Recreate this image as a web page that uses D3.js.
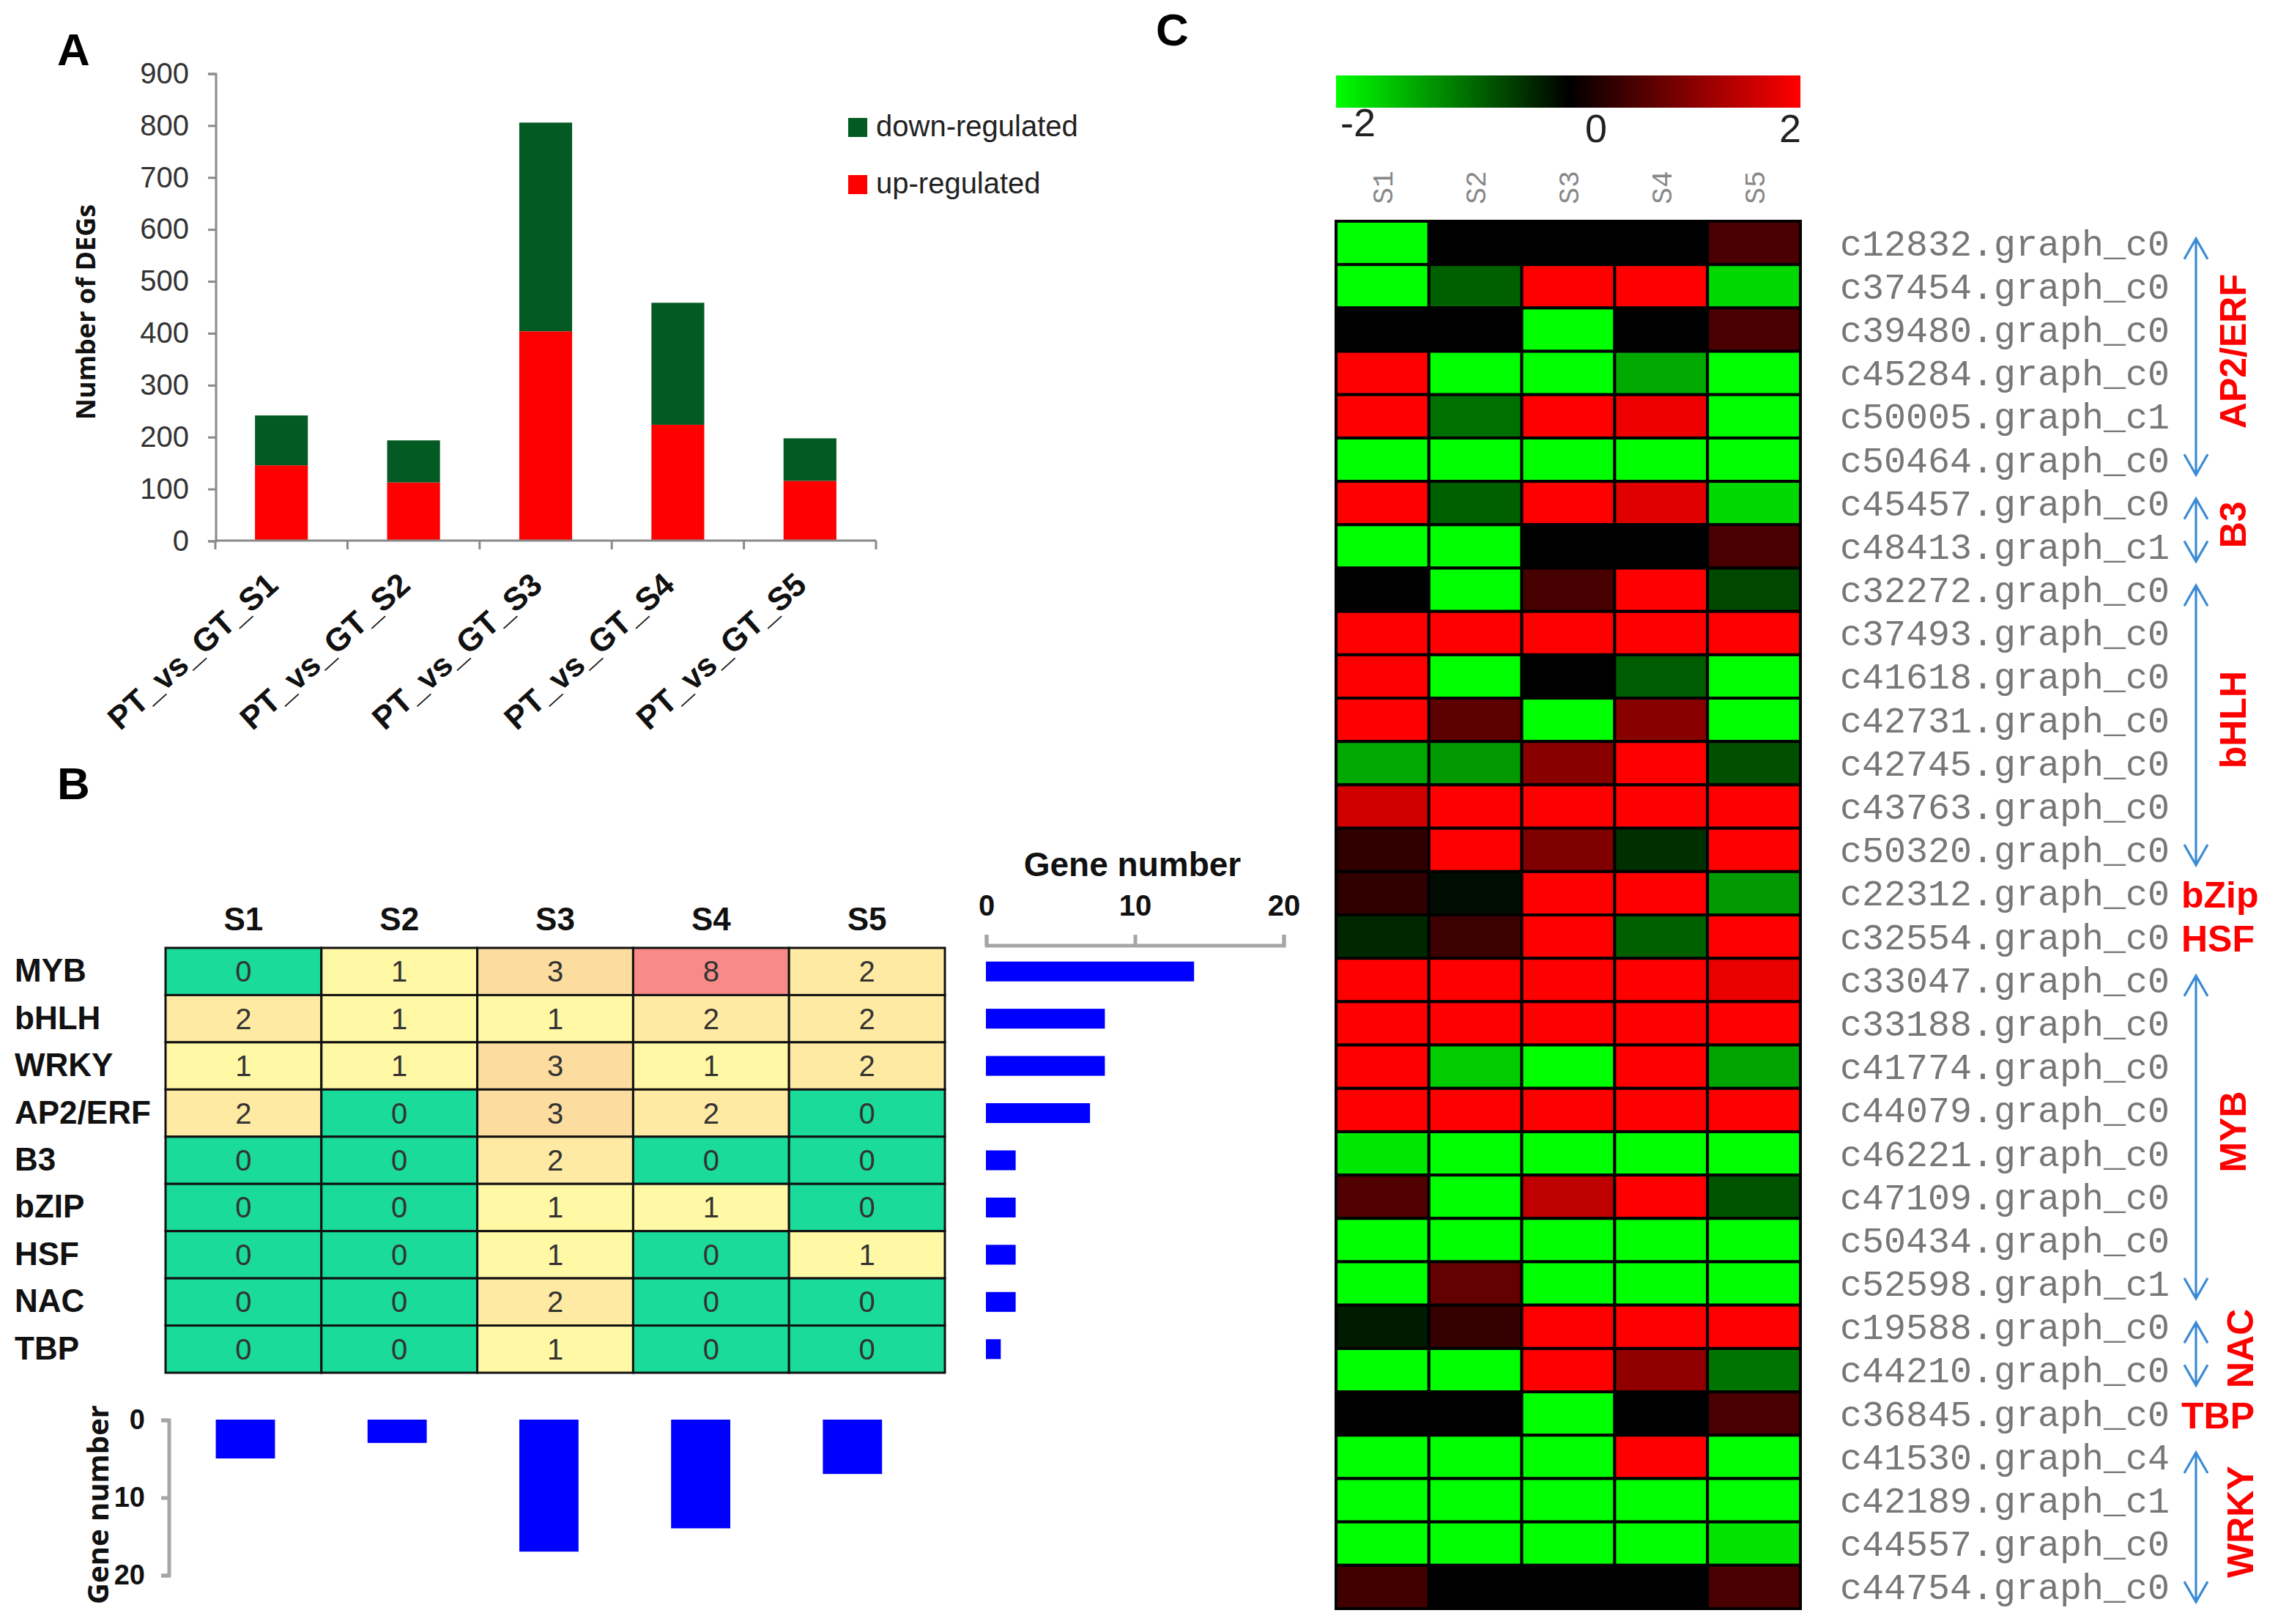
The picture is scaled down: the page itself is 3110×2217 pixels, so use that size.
<!DOCTYPE html>
<html>
<head>
<meta charset="utf-8">
<script src="https://cdn.jsdelivr.net/npm/d3@7"></script>
<style>
  body { margin: 0; background: #fff; }
  svg { display: block; }
</style>
</head>
<body>
<div id="figure"></div>
<script>
// ---- panel A data
const comparisons = ['PT_vs_GT_S1', 'PT_vs_GT_S2', 'PT_vs_GT_S3', 'PT_vs_GT_S4', 'PT_vs_GT_S5']
const upRegulated = [145, 112, 403, 223, 115]
const downRegulated = [96, 81, 402, 235, 82]

// ---- panel B data
const stages = ['S1', 'S2', 'S3', 'S4', 'S5']
const families = ['MYB', 'bHLH', 'WRKY', 'AP2/ERF', 'B3', 'bZIP', 'HSF', 'NAC', 'TBP']
const familyCounts = [
  [0, 1, 3, 8, 2],
  [2, 1, 1, 2, 2],
  [1, 1, 3, 1, 2],
  [2, 0, 3, 2, 0],
  [0, 0, 2, 0, 0],
  [0, 0, 1, 1, 0],
  [0, 0, 1, 0, 1],
  [0, 0, 2, 0, 0],
  [0, 0, 1, 0, 0]
]
const familyTotals = [14, 8, 8, 7, 2, 2, 2, 2, 1]
const stageTotals = [5, 3, 17, 14, 7]

// ---- panel C data
const genes = [
  'c12832.graph_c0', 'c37454.graph_c0', 'c39480.graph_c0', 'c45284.graph_c0',
  'c50005.graph_c1', 'c50464.graph_c0', 'c45457.graph_c0', 'c48413.graph_c1',
  'c32272.graph_c0', 'c37493.graph_c0', 'c41618.graph_c0', 'c42731.graph_c0',
  'c42745.graph_c0', 'c43763.graph_c0', 'c50320.graph_c0', 'c22312.graph_c0',
  'c32554.graph_c0', 'c33047.graph_c0', 'c33188.graph_c0', 'c41774.graph_c0',
  'c44079.graph_c0', 'c46221.graph_c0', 'c47109.graph_c0', 'c50434.graph_c0',
  'c52598.graph_c1', 'c19588.graph_c0', 'c44210.graph_c0', 'c36845.graph_c0',
  'c41530.graph_c4', 'c42189.graph_c1', 'c44557.graph_c0', 'c44754.graph_c0'
]
const expression = [
  [-2, 0, 0, 0, 0.58],
  [-2, -0.75, 2, 2, -1.7],
  [0, 0, -2, 0, 0.58],
  [2, -2, -2, -1.32, -2],
  [2, -0.88, 2, 1.87, -2],
  [-2, -2, -2, -2, -2],
  [2, -0.75, 2, 1.76, -1.7],
  [-2, -2, 0, 0, 0.58],
  [0, -2, 0.56, 2, -0.56],
  [2, 2, 2, 2, 2],
  [2, -2, 0, -0.72, -2],
  [2, 0.72, -2, 1.07, -2],
  [-1.32, -1.2, 1.07, 2, -0.63],
  [1.63, 2, 2, 2, 2],
  [0.38, 2, 1.0, -0.38, 2],
  [0.38, -0.1, 2, 2, -1.2],
  [-0.31, 0.47, 2, -0.75, 2],
  [2, 2, 2, 2, 1.84],
  [2, 2, 2, 2, 2],
  [2, -1.6, -2, 2, -1.29],
  [2, 2, 2, 2, 2],
  [-1.82, -2, -2, -2, -2],
  [0.63, -2, 1.5, 2, -0.66],
  [-2, -2, -2, -2, -2],
  [-2, 0.78, -2, -2, -2],
  [-0.22, 0.41, 2, 2, 2],
  [-2, -2, 2, 1.13, -0.91],
  [0, 0, -2, 0, 0.58],
  [-2, -2, -2, 2, -2],
  [-2, -2, -2, -2, -2],
  [-2, -2, -2, -2, -1.79],
  [0.5, 0, 0, 0, 0.58]
]
const geneGroups = [
  { name: 'AP2/ERF', first: 0, last: 5, arrow: true },
  { name: 'B3', first: 6, last: 7, arrow: true },
  { name: 'bHLH', first: 8, last: 14, arrow: true },
  { name: 'bZip', first: 15, last: 15, arrow: false },
  { name: 'HSF', first: 16, last: 16, arrow: false },
  { name: 'MYB', first: 17, last: 24, arrow: true },
  { name: 'NAC', first: 25, last: 26, arrow: true },
  { name: 'TBP', first: 27, last: 27, arrow: false },
  { name: 'WRKY', first: 28, last: 31, arrow: true }
]
const colorbarTicks = [-2, 0, 2]

const narrow = "'Liberation Sans Narrow', 'Arial Narrow', sans-serif"
const sans = "'Liberation Sans', Arial, sans-serif"
const wide = "'Open Sans', 'DejaVu Sans', sans-serif"
const mono = "'Liberation Mono', 'Courier New', monospace"

const svg = d3
  .select('#figure')
  .append('svg')
  .attr('width', 3110)
  .attr('height', 2217)
  .attr('viewBox', '0 0 1555 1108.5')

svg.append('rect').attr('width', 1555).attr('height', 1108.5).attr('fill', '#fff')

// panel letters
const letters = [['A', 39, 44.5], ['B', 39, 545.5], ['C', 789, 31]]
svg
  .selectAll('.panel-letter')
  .data(letters)
  .enter()
  .append('text')
  .attr('class', 'panel-letter')
  .attr('x', d => d[1])
  .attr('y', d => d[2])
  .text(d => d[0])
  .attr('font-family', sans)
  .attr('font-weight', 700)
  .attr('font-size', 31)

// =============== Panel A ===============
const panelA = svg.append('g')

const xA = d3
  .scaleBand()
  .domain(comparisons)
  .range([147, 598])
  .paddingInner(0.6)
  .paddingOuter(0.3)

const yA = d3
  .scaleLinear()
  .domain([0, 900])
  .range([369, 50])

const degRows = comparisons.map((c, i) => ({ name: c, up: upRegulated[i], down: downRegulated[i] }))
const degSeries = d3.stack().keys(['up', 'down'])(degRows)
const degColors = { up: '#ff0000', down: '#035a22' }

panelA
  .selectAll('.layer')
  .data(degSeries)
  .enter()
  .append('g')
  .attr('class', 'layer')
  .attr('fill', d => degColors[d.key])
  .selectAll('rect')
  .data(d => d)
  .enter()
  .append('rect')
  .attr('x', d => xA(d.data.name))
  .attr('y', d => yA(d[1]))
  .attr('width', xA.bandwidth())
  .attr('height', d => yA(d[0]) - yA(d[1]))

const yAxisA = panelA
  .append('g')
  .attr('transform', 'translate(147,0)')
  .call(d3.axisLeft(yA).ticks(9).tickSize(5).tickPadding(13))
yAxisA.select('.domain').attr('stroke', '#8a8a8a').attr('stroke-width', 1.5)
yAxisA.selectAll('.tick line').attr('stroke', '#8a8a8a').attr('stroke-width', 1.5)
yAxisA
  .selectAll('.tick text')
  .attr('font-family', narrow)
  .attr('font-size', 20)
  .attr('fill', '#333')

// x axis with ticks between categories
panelA
  .append('line')
  .attr('x1', xA.range()[0])
  .attr('x2', xA.range()[1])
  .attr('y1', yA(0))
  .attr('y2', yA(0))
  .attr('stroke', '#8a8a8a')
  .attr('stroke-width', 1.5)

const gapA = (xA.step() - xA.bandwidth()) / 2
const boundaries = comparisons.map(c => xA(c) - gapA).concat([xA.range()[1]])
panelA
  .selectAll('.x-tick')
  .data(boundaries)
  .enter()
  .append('line')
  .attr('x1', d => d)
  .attr('x2', d => d)
  .attr('y1', yA(0))
  .attr('y2', yA(0) + 6)
  .attr('stroke', '#8a8a8a')
  .attr('stroke-width', 1.5)

panelA
  .selectAll('.x-label')
  .data(comparisons)
  .enter()
  .append('text')
  .attr('class', 'x-label')
  .attr('transform', d => 'translate(' + (xA(d) + xA.bandwidth() / 2 - 1) + ',401) rotate(-42)')
  .attr('text-anchor', 'end')
  .text(d => d)
  .attr('font-family', sans)
  .attr('font-weight', 700)
  .attr('font-size', 22)
  .attr('fill', '#111')

panelA
  .append('text')
  .attr('transform', 'translate(65,213) rotate(-90)')
  .attr('text-anchor', 'middle')
  .text('Number of DEGs')
  .attr('font-family', wide)
  .attr('font-weight', 700)
  .attr('font-size', 18)
  .attr('fill', '#111')

const legendA = panelA
  .selectAll('.legend')
  .data(['down', 'up'])
  .enter()
  .append('g')
  .attr('transform', (d, i) => 'translate(579,' + (80.5 + i * 39) + ')')
legendA
  .append('rect')
  .attr('width', 13)
  .attr('height', 13)
  .attr('fill', d => degColors[d])
legendA
  .append('text')
  .attr('x', 19)
  .attr('y', 12.5)
  .text(d => d + '-regulated')
  .attr('font-family', sans)
  .attr('font-size', 20)
  .attr('fill', '#222')

// =============== Panel B ===============
const panelB = svg.append('g')

const xT = d3.scaleBand().domain(stages).range([113, 645])
const yT = d3.scaleBand().domain(families).range([647, 937])

const countColor = d3
  .scaleOrdinal()
  .domain([0, 1, 2, 3, 8])
  .range(['#1adb9a', '#fff8a5', '#feeaa2', '#fcdc9f', '#f98a87'])

const tableCells = []
families.forEach((f, i) => {
  stages.forEach((s, j) => {
    tableCells.push({ family: f, stage: s, value: familyCounts[i][j] })
  })
})

panelB
  .selectAll('.cell')
  .data(tableCells)
  .enter()
  .append('rect')
  .attr('class', 'cell')
  .attr('x', d => xT(d.stage))
  .attr('y', d => yT(d.family))
  .attr('width', xT.bandwidth())
  .attr('height', yT.bandwidth())
  .attr('fill', d => countColor(d.value))
  .attr('stroke', '#111')
  .attr('stroke-width', 1.5)

panelB
  .selectAll('.cell-value')
  .data(tableCells)
  .enter()
  .append('text')
  .attr('x', d => xT(d.stage) + xT.bandwidth() / 2)
  .attr('y', d => yT(d.family) + yT.bandwidth() / 2 + 7)
  .attr('text-anchor', 'middle')
  .text(d => d.value)
  .attr('font-family', narrow)
  .attr('font-size', 20)
  .attr('fill', '#333')

panelB
  .selectAll('.stage-head')
  .data(stages)
  .enter()
  .append('text')
  .attr('x', d => xT(d) + xT.bandwidth() / 2)
  .attr('y', 635)
  .attr('text-anchor', 'middle')
  .text(d => d)
  .attr('font-family', narrow)
  .attr('font-weight', 700)
  .attr('font-size', 22)
  .attr('fill', '#111')

panelB
  .selectAll('.family-label')
  .data(families)
  .enter()
  .append('text')
  .attr('x', 10)
  .attr('y', d => yT(d) + yT.bandwidth() / 2 + 7)
  .text(d => d)
  .attr('font-family', narrow)
  .attr('font-weight', 700)
  .attr('font-size', 22)
  .attr('fill', '#111')

// bars on the right: genes per family
const xR = d3.scaleLinear().domain([0, 20]).range([673, 876])
const yR = d3
  .scaleBand()
  .domain(families)
  .range([647, 937])
  .paddingInner(0.58)
  .paddingOuter(0.29)

panelB
  .selectAll('.family-bar')
  .data(families)
  .enter()
  .append('rect')
  .attr('x', xR(0))
  .attr('y', d => yR(d))
  .attr('width', (d, i) => xR(familyTotals[i]) - xR(0))
  .attr('height', yR.bandwidth())
  .attr('fill', '#0000ff')

const axisR = panelB
  .append('g')
  .attr('transform', 'translate(0,645)')
  .call(d3.axisTop(xR).tickValues([0, 10, 20]).tickSize(7).tickPadding(13))
axisR.select('.domain').attr('stroke', '#a6a6a6').attr('stroke-width', 2.5)
axisR.selectAll('.tick line').attr('stroke', '#a6a6a6').attr('stroke-width', 2.5)
axisR
  .selectAll('.tick text')
  .attr('font-family', narrow)
  .attr('font-weight', 700)
  .attr('font-size', 20)
  .attr('fill', '#111')

panelB
  .append('text')
  .attr('x', 773)
  .attr('y', 598)
  .attr('text-anchor', 'middle')
  .text('Gene number')
  .attr('font-family', narrow)
  .attr('font-weight', 700)
  .attr('font-size', 23)
  .attr('fill', '#111')

// bars at the bottom: genes per stage
const xB = d3
  .scaleBand()
  .domain(stages)
  .range([115.7, 633.7])
  .paddingInner(0.61)
  .paddingOuter(0.305)
const yB = d3.scaleLinear().domain([0, 20]).range([969, 1075])

panelB
  .selectAll('.stage-bar')
  .data(stages)
  .enter()
  .append('rect')
  .attr('x', d => xB(d))
  .attr('y', yB(0))
  .attr('width', xB.bandwidth())
  .attr('height', (d, i) => yB(stageTotals[i]) - yB(0))
  .attr('fill', '#0000ff')

const axisB = panelB
  .append('g')
  .attr('transform', 'translate(115,0)')
  .call(d3.axisLeft(yB).tickValues([0, 10, 20]).tickSize(5).tickPadding(11))
axisB.select('.domain').attr('stroke', '#a6a6a6').attr('stroke-width', 2.5)
axisB.selectAll('.tick line').attr('stroke', '#a6a6a6').attr('stroke-width', 2.5)
axisB
  .selectAll('.tick text')
  .attr('font-family', narrow)
  .attr('font-weight', 700)
  .attr('font-size', 19)
  .attr('fill', '#111')

panelB
  .append('text')
  .attr('transform', 'translate(74,1027) rotate(-90)')
  .attr('text-anchor', 'middle')
  .text('Gene number')
  .attr('font-family', wide)
  .attr('font-weight', 700)
  .attr('font-size', 20)
  .attr('fill', '#111')

// =============== Panel C ===============
const panelC = svg.append('g')

const xH = d3.scaleBand().domain(stages).range([912, 1229])
const yH = d3.scaleBand().domain(genes).range([151, 1098])

const heatColor = d3
  .scaleLinear()
  .domain([-2, 0, 2])
  .range(['#00ff00', '#000000', '#ff0000'])
  .clamp(true)

// colour key
const gradient = svg
  .append('defs')
  .append('linearGradient')
  .attr('id', 'key-gradient')
gradient
  .selectAll('stop')
  .data(colorbarTicks)
  .enter()
  .append('stop')
  .attr('offset', (d, i) => (i * 50) + '%')
  .attr('stop-color', d => heatColor(d))

const xKey = d3.scaleLinear().domain([-2, 2]).range([912, 1229])
panelC
  .append('rect')
  .attr('x', xKey(-2))
  .attr('y', 51.5)
  .attr('width', xKey(2) - xKey(-2))
  .attr('height', 22)
  .attr('fill', 'url(#key-gradient)')

panelC
  .selectAll('.key-label')
  .data(colorbarTicks)
  .enter()
  .append('text')
  .attr('x', d => d === -2 ? xKey(d) + 15 : d === 2 ? xKey(d) - 7 : xKey(d) + 19)
  .attr('y', d => d === -2 ? 93 : 97)
  .attr('text-anchor', 'middle')
  .text(d => d)
  .attr('font-family', sans)
  .attr('font-size', 27)
  .attr('fill', '#222')

panelC
  .selectAll('.heat-col')
  .data(stages)
  .enter()
  .append('text')
  .attr('transform', d => 'translate(' + (xH(d) + xH.bandwidth() / 2 + 7) + ',128) rotate(-90)')
  .attr('text-anchor', 'middle')
  .text(d => d)
  .attr('font-family', mono)
  .attr('font-size', 19)
  .attr('fill', '#888')

const heatCells = []
genes.forEach((g, i) => {
  stages.forEach((s, j) => {
    heatCells.push({ gene: g, stage: s, value: expression[i][j] })
  })
})

panelC
  .selectAll('.heat-cell')
  .data(heatCells)
  .enter()
  .append('rect')
  .attr('x', d => xH(d.stage))
  .attr('y', d => yH(d.gene))
  .attr('width', xH.bandwidth())
  .attr('height', yH.bandwidth())
  .attr('fill', d => heatColor(d.value))
  .attr('stroke', '#000')
  .attr('stroke-width', 2)

panelC
  .selectAll('.gene-label')
  .data(genes)
  .enter()
  .append('text')
  .attr('x', 1256)
  .attr('y', d => yH(d) + yH.bandwidth() / 2 + 8.5)
  .text(d => d)
  .attr('font-family', mono)
  .attr('font-size', 25)
  .attr('fill', '#777')

// family brackets
const arrowX = 1499
const rowH = yH.bandwidth()
const arrowGroups = geneGroups.filter(d => d.arrow)

panelC
  .selectAll('.group-line')
  .data(arrowGroups)
  .enter()
  .append('path')
  .attr('d', d => {
    const top = yH(genes[d.first]) + rowH * 0.4
    const bottom = yH(genes[d.last]) + rowH * 0.85
    return 'M' + arrowX + ',' + top + 'V' + bottom +
      'M' + (arrowX - 8) + ',' + (top + 14) + 'L' + arrowX + ',' + top + 'L' + (arrowX + 8) + ',' + (top + 14) +
      'M' + (arrowX - 8) + ',' + (bottom - 14) + 'L' + arrowX + ',' + bottom + 'L' + (arrowX + 8) + ',' + (bottom - 14)
  })
  .attr('fill', 'none')
  .attr('stroke', '#3b8bd4')
  .attr('stroke-width', 1.6)

panelC
  .selectAll('.group-name')
  .data(geneGroups)
  .enter()
  .append('text')
  .attr('transform', d => {
    if (!d.arrow) {
      return 'translate(1489,' + (yH(genes[d.first]) + rowH / 2 + 10) + ')'
    }
    const mid = (yH(genes[d.first]) + yH(genes[d.last]) + rowH) / 2
    const shift = d.first >= 25 ? 1538 : 1533
    return 'translate(' + shift + ',' + mid + ') rotate(-90)'
  })
  .attr('text-anchor', d => d.arrow ? 'middle' : 'start')
  .text(d => d.name)
  .attr('font-family', sans)
  .attr('font-weight', 700)
  .attr('font-size', 25)
  .attr('fill', '#ff0000')
</script>
</body>
</html>
